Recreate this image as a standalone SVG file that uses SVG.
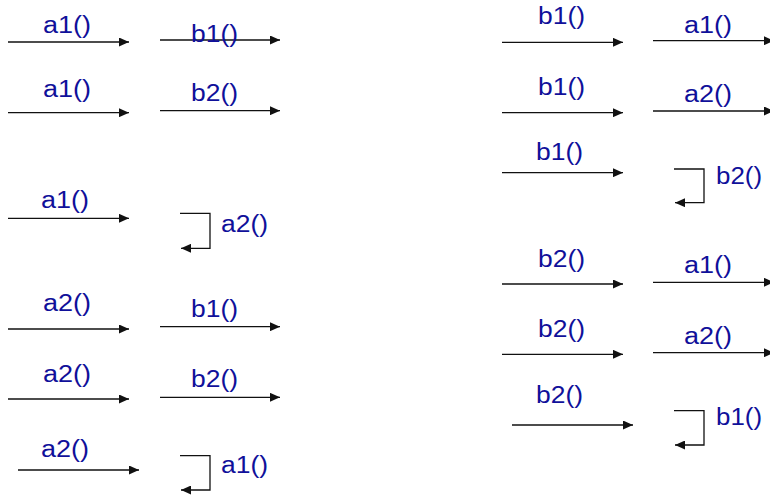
<svg xmlns="http://www.w3.org/2000/svg" width="770" height="498" viewBox="0 0 770 498">
<style>
.c{fill:none;stroke:#111;stroke-width:1.3}
.t{font-family:"Liberation Sans",Arial,sans-serif;font-size:23px;fill:#10109a}
</style>
<defs>
<marker id="ah" markerUnits="userSpaceOnUse" markerWidth="10" markerHeight="9" refX="10" refY="4.5" orient="auto">
<path d="M0,0 L10,4.5 L0,9 z" fill="#111"/>
</marker>
</defs>
<rect width="770" height="498" fill="#fff"/>
<g id="connectors">
<path class="c" marker-end="url(#ah)" d="M8,42 H129"/>
<path class="c" marker-end="url(#ah)" d="M160,40 H280"/>
<path class="c" marker-end="url(#ah)" d="M8,112.7 H129"/>
<path class="c" marker-end="url(#ah)" d="M160,110.7 H280"/>
<path class="c" marker-end="url(#ah)" d="M8,218.3 H129"/>
<path class="c" marker-end="url(#ah)" d="M180,213.3 H210 V248.3 H181"/>
<path class="c" marker-end="url(#ah)" d="M8,329 H129"/>
<path class="c" marker-end="url(#ah)" d="M160,326.7 H280"/>
<path class="c" marker-end="url(#ah)" d="M8,399 H129"/>
<path class="c" marker-end="url(#ah)" d="M160,397.3 H280"/>
<path class="c" marker-end="url(#ah)" d="M18,470 H139"/>
<path class="c" marker-end="url(#ah)" d="M180,455.7 H210 V490 H181"/>
<path class="c" marker-end="url(#ah)" d="M502,42.3 H623"/>
<path class="c" marker-end="url(#ah)" d="M653,40.7 H774"/>
<path class="c" marker-end="url(#ah)" d="M502,112.7 H623"/>
<path class="c" marker-end="url(#ah)" d="M653,111 H774"/>
<path class="c" marker-end="url(#ah)" d="M502,172.7 H623"/>
<path class="c" marker-end="url(#ah)" d="M674,169 H704 V202.7 H675"/>
<path class="c" marker-end="url(#ah)" d="M502,284 H623"/>
<path class="c" marker-end="url(#ah)" d="M653,282.3 H774"/>
<path class="c" marker-end="url(#ah)" d="M502,354.3 H623"/>
<path class="c" marker-end="url(#ah)" d="M653,352.7 H774"/>
<path class="c" marker-end="url(#ah)" d="M512,425 H633"/>
<path class="c" marker-end="url(#ah)" d="M674,410.7 H704 V445 H675"/>
</g>
<g id="labels-left">
<text class="t" x="43" y="33" textLength="48" lengthAdjust="spacingAndGlyphs">a1()</text>
<text class="t" x="191" y="42" textLength="47" lengthAdjust="spacingAndGlyphs">b1()</text>
<text class="t" x="43" y="96.7" textLength="48" lengthAdjust="spacingAndGlyphs">a1()</text>
<text class="t" x="191" y="100.7" textLength="47" lengthAdjust="spacingAndGlyphs">b2()</text>
<text class="t" x="41" y="208.3" textLength="48" lengthAdjust="spacingAndGlyphs">a1()</text>
<text class="t" x="221" y="231.7" textLength="47" lengthAdjust="spacingAndGlyphs">a2()</text>
<text class="t" x="43" y="311" textLength="48" lengthAdjust="spacingAndGlyphs">a2()</text>
<text class="t" x="191" y="317.3" textLength="47" lengthAdjust="spacingAndGlyphs">b1()</text>
<text class="t" x="43" y="381.7" textLength="48" lengthAdjust="spacingAndGlyphs">a2()</text>
<text class="t" x="191" y="387.3" textLength="47" lengthAdjust="spacingAndGlyphs">b2()</text>
<text class="t" x="41" y="456.7" textLength="48" lengthAdjust="spacingAndGlyphs">a2()</text>
<text class="t" x="221" y="472.7" textLength="47" lengthAdjust="spacingAndGlyphs">a1()</text>
</g>
<g id="labels-right">
<text class="t" x="538" y="24.3" textLength="47" lengthAdjust="spacingAndGlyphs">b1()</text>
<text class="t" x="684" y="32.7" textLength="48" lengthAdjust="spacingAndGlyphs">a1()</text>
<text class="t" x="538" y="95" textLength="47" lengthAdjust="spacingAndGlyphs">b1()</text>
<text class="t" x="684" y="101.7" textLength="48" lengthAdjust="spacingAndGlyphs">a2()</text>
<text class="t" x="536" y="160" textLength="47" lengthAdjust="spacingAndGlyphs">b1()</text>
<text class="t" x="716" y="184.3" textLength="46" lengthAdjust="spacingAndGlyphs">b2()</text>
<text class="t" x="538" y="266.7" textLength="47" lengthAdjust="spacingAndGlyphs">b2()</text>
<text class="t" x="684" y="273.3" textLength="48" lengthAdjust="spacingAndGlyphs">a1()</text>
<text class="t" x="538" y="337.3" textLength="47" lengthAdjust="spacingAndGlyphs">b2()</text>
<text class="t" x="684" y="344" textLength="48" lengthAdjust="spacingAndGlyphs">a2()</text>
<text class="t" x="536" y="402.7" textLength="47" lengthAdjust="spacingAndGlyphs">b2()</text>
<text class="t" x="716" y="425" textLength="46" lengthAdjust="spacingAndGlyphs">b1()</text>
</g>
</svg>
